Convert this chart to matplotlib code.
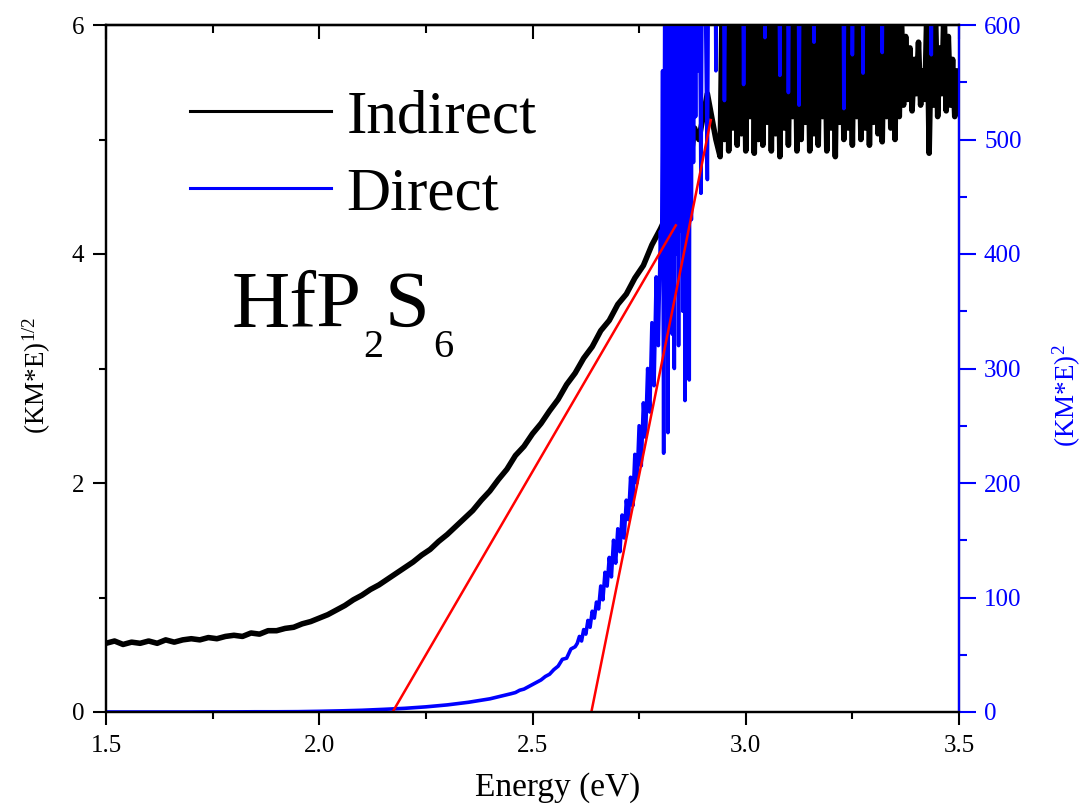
import numpy as np
import matplotlib
matplotlib.use("Agg")
from matplotlib import pyplot as plt
from matplotlib.ticker import MultipleLocator

plt.rcParams['font.family'] = ['Liberation Serif', 'DejaVu Serif']
plt.rcParams['mathtext.fontset'] = 'custom'
plt.rcParams['mathtext.rm'] = 'Liberation Serif'
plt.rcParams['mathtext.it'] = 'Liberation Serif:italic'
plt.rcParams['path.simplify'] = False   # keep every spike of the noisy parts

# ---- data ----
# indirect, (KM*E)^1/2, left axis
e_ind_lo = np.round(np.arange(1.50, 2.801, 0.02), 3)
ind_lo = [0.60, 0.62, 0.59, 0.61, 0.60, 0.62, 0.60, 0.63, 0.61, 0.63,
          0.64, 0.63, 0.65, 0.64, 0.66, 0.67, 0.66, 0.69, 0.68, 0.71,
          0.71, 0.73, 0.74, 0.77, 0.79, 0.82, 0.85, 0.89, 0.93, 0.98,
          1.02, 1.07, 1.11, 1.16, 1.21, 1.26, 1.31, 1.37, 1.42, 1.49,
          1.55, 1.62, 1.69, 1.76, 1.85, 1.93, 2.03, 2.12, 2.24, 2.32,
          2.43, 2.52, 2.63, 2.73, 2.86, 2.96, 3.09, 3.19, 3.33, 3.42,
          3.56, 3.65, 3.79, 3.90, 4.08, 4.22]
e_ind_mid = np.round(np.arange(2.81, 2.931, 0.01), 3)
ind_mid = [4.30, 4.50, 4.40, 4.70, 4.60, 4.90, 4.80, 5.10, 5.00, 5.20,
           5.40, 5.20, 5.00]
e_ind_hi = np.round(np.arange(2.940, 3.5001, 0.005), 3)
ind_hi = [4.85, 6.30, 5.00, 6.30, 4.90, 6.10, 5.10, 6.40, 4.95, 6.20,
          5.05, 6.50, 4.90, 6.20, 5.20, 6.40, 4.88, 6.10, 5.00, 6.30,
          4.95, 6.30, 5.15, 6.40, 4.90, 6.20, 5.05, 6.10, 4.85, 6.30,
          5.10, 6.50, 4.95, 6.20, 5.20, 6.30, 4.90, 6.40, 5.00, 6.10,
          5.15, 6.30, 4.90, 6.50, 5.05, 6.10, 4.95, 6.30, 5.20, 6.20,
          4.90, 6.40, 5.10, 6.20, 4.85, 6.30, 5.15, 6.40, 5.00, 6.30,
          5.10, 6.20, 4.95, 6.40, 5.20, 6.10, 5.00, 6.30, 5.10, 6.50,
          4.95, 6.20, 5.15, 6.30, 5.05, 6.40, 4.98, 6.20, 5.20, 6.30,
          5.10, 6.20, 5.00, 6.30, 5.20, 6.10, 5.30, 5.90, 5.35, 5.80,
          5.25, 5.70, 5.40, 5.85, 5.30, 5.60, 5.35, 6.20, 4.88, 5.90,
          5.30, 6.10, 5.20, 5.80, 5.40, 6.20, 5.25, 5.90, 5.30, 5.70,
          5.20, 5.60, 5.30]

# direct, (KM*E)^2, right axis
e_dir_lo = np.round(np.arange(1.50, 2.451, 0.05), 3)
dir_lo = [0, 0, 0, 0, 0, 0.1, 0.1, 0.2, 0.2, 0.3,
          0.6, 1.0, 1.5, 2.3, 3.2, 4.5, 6.2, 8.5, 11.5, 16]
e_dir_mid = np.round(np.arange(2.46, 2.601, 0.01), 3)
dir_mid = [17, 19, 20, 22, 24, 26, 28, 31, 33, 37, 40, 46, 47, 55, 57]
e_dir_rise = np.round(np.arange(2.605, 2.8001, 0.005), 3)
dir_rise = [60, 66, 62, 72, 68, 80, 74, 88, 82, 96,
            90, 110, 98, 122, 110, 135, 118, 150, 130, 160,
            140, 172, 152, 185, 168, 205, 180, 225, 200, 250,
            215, 270, 240, 300, 262, 340, 285, 380, 320, 420]
e_dir_band = np.round(np.arange(2.8025, 2.8876, 0.0025), 4)
dir_band = [380, 560, 226, 620, 360, 700, 244, 720, 380, 780,
            330, 820, 300, 760, 400, 850, 320, 800, 420, 880,
            350, 760, 272, 840, 380, 900, 290, 780, 430, 860,
            480, 820, 520, 900, 560]
e_dir_edge = np.round(np.arange(2.89, 2.9401, 0.005), 3)
dir_edge = [750, 453, 820, 640, 465, 850, 610, 900, 560, 880, 700]
e_dir_hi = np.round(np.arange(2.945, 3.5001, 0.005), 3)
dir_hi = [820, 534, 760, 900, 710, 850, 680, 940, 720, 870,
          548, 800, 690, 930, 760, 880, 700, 950, 740, 820,
          589, 870, 720, 900, 680, 910, 760, 556, 830, 700,
          880, 541, 790, 940, 720, 860, 530, 800, 690, 920,
          750, 870, 710, 585, 900, 760, 840, 680, 930, 720,
          860, 700, 910, 750, 820, 690, 940, 527, 800, 720,
          880, 574, 760, 900, 700, 850, 558, 920, 740, 810,
          690, 900, 760, 870, 720, 576, 830, 700, 940, 760,
          850, 690, 910, 740, 880, 710, 820, 930, 700, 860,
          750, 900, 690, 840, 760, 920, 720, 880, 574, 800,
          710, 930, 760, 850, 690, 900, 740, 870, 720, 820,
          760, 880]

# linear fits (end points)
fit_ind_e = [2.172, 2.836]
fit_ind_y = [0.0, 4.25]
fit_dir_e = [2.638, 2.918]
fit_dir_y = [0.0, 517.0]

energy_ind = np.concatenate([e_ind_lo, e_ind_mid, e_ind_hi])
indirect = np.concatenate([ind_lo, ind_mid, ind_hi])
energy_dir = np.concatenate([e_dir_lo, e_dir_mid, e_dir_rise, e_dir_band,
                             e_dir_edge, e_dir_hi])
direct = np.concatenate([dir_lo, dir_mid, dir_rise, dir_band, dir_edge, dir_hi])

# ---- plot ----
W, H = 1086, 806
X0, X1, Y0, Y1 = 106, 959, 712, 25   # axes box in pixels


def ax_frac(px, py):
    return (px - X0) / (X1 - X0), (Y0 - py) / (Y0 - Y1)


fig = plt.figure(figsize=(W / 100, H / 100), dpi=100)
ax = fig.add_axes([X0 / W, 1 - Y0 / H, (X1 - X0) / W, (Y0 - Y1) / H])
ax2 = ax.twinx()

l1, = ax.plot(energy_ind, indirect, color='black', lw=4.0, label='Indirect')
l2, = ax2.plot(energy_dir, direct, color='#0000ff', lw=2.6, label='Direct')
ax2.plot(fit_ind_e, fit_ind_y, color='#ff0000', lw=1.8, transform=ax.transData)
ax2.plot(fit_dir_e, fit_dir_y, color='#ff0000', lw=1.8)

ax.set_xlim(1.5, 3.5)
ax.set_ylim(0, 6)
ax2.set_ylim(0, 600)

ax.xaxis.set_major_locator(MultipleLocator(0.5))
ax.xaxis.set_minor_locator(MultipleLocator(0.25))
ax.yaxis.set_major_locator(MultipleLocator(2))
ax.yaxis.set_minor_locator(MultipleLocator(1))
ax2.yaxis.set_major_locator(MultipleLocator(100))
ax2.yaxis.set_minor_locator(MultipleLocator(50))
ax.xaxis.set_major_formatter(matplotlib.ticker.FormatStrFormatter('%.1f'))

for sp in ax.spines.values():
    sp.set_linewidth(1.6)
for sp in ax2.spines.values():
    sp.set_linewidth(1.6)
ax2.spines['right'].set_color('#0000ff')

ax.tick_params(axis='both', which='major', direction='out', length=9.5, width=1.5,
               labelsize=18, pad=6)
ax.tick_params(axis='both', which='minor', direction='out', length=5, width=1.5)
ax.tick_params(axis='x', which='major', pad=7)
ax2.tick_params(axis='y', which='major', direction='out', length=12, width=1.5,
                labelsize=18, pad=6, colors='#0000ff')
ax2.tick_params(axis='y', which='minor', direction='out', length=6, width=1.5,
                colors='#0000ff')

top = ax.secondary_xaxis('top')
top.xaxis.set_major_locator(MultipleLocator(0.5))
top.xaxis.set_minor_locator(MultipleLocator(0.25))
top.tick_params(axis='x', which='major', direction='in', length=10, width=1.5,
                labeltop=False)
top.tick_params(axis='x', which='minor', direction='in', length=6, width=1.5)
top.spines['top'].set_linewidth(1.6)

ax.set_xlabel('Energy (eV)', fontsize=24)
ax.xaxis.set_label_coords(0.529, -0.088)
ax.set_ylabel(r'(KM*E)$^{1/2}$', fontsize=19.5)
ax.yaxis.set_label_coords(-0.062, 0.49)
ax2.set_ylabel(r'(KM*E)$^{2}$', fontsize=19.5, color='#0000ff')
ax2.yaxis.set_label_coords(1.108, 0.46)

leg = ax2.legend(handles=[l1, l2], loc='upper left', frameon=False, fontsize=44,
                 handlelength=2.3, handletextpad=0.25, labelspacing=0.35,
                 borderaxespad=0, bbox_to_anchor=ax_frac(X0 + 60, Y1 + 40))
for h in leg.get_lines():
    h.set_linewidth(2.2)

# compound label HfP2S6 with low subscripts
for s, px, py, fs in [('HfP', 232, 327, 58), ('2', 363, 357, 29),
                      ('S', 385, 327, 58), ('6', 433, 357, 29)]:
    ax2.text(*ax_frac(px, py), s, transform=ax.transAxes, fontsize=fs,
             ha='left', va='baseline')

fig.savefig('out.png', dpi=100)
